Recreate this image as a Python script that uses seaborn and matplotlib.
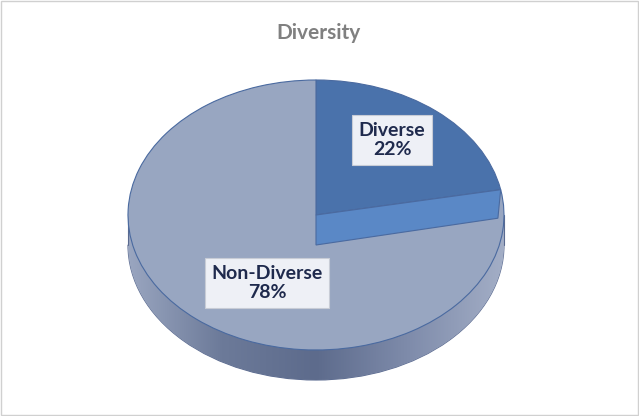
import numpy as np
import matplotlib
matplotlib.use("Agg")
import matplotlib.pyplot as plt
import seaborn as sns
from matplotlib.patches import Polygon, Rectangle, Wedge

categories = ["Diverse", "Non-Diverse"]
shares = [22, 78]
title = "Diversity"

sns.set_theme(style="white")
plt.rcParams['font.family'] = ['Lato', 'DejaVu Sans']

W, H = 639, 416
fig = plt.figure(figsize=(W/100, H/100), dpi=100)
fig.patch.set_facecolor("white")
ax = fig.add_axes([0, 0, 1, 1])
cx, cy, rx, ry, depth = 316, 215, 188, 135, 30
ax.set_xlim(-cx/rx, (W-cx)/rx)
ax.set_ylim(-(H-cy)/ry, cy/ry)
ax.set_aspect('auto')
ax.axis('off')
d = depth/ry

top_col = {"Diverse": "#4a72ab", "Non-Diverse": "#98a6c1"}
fracs = np.array(shares)/sum(shares)
start = 90.0
angles = []
for f in fracs:
    angles.append((start - f*360, start))
    start -= f*360

# side band with gradient
grad = np.linspace(0, 1, 256).reshape(1, -1)
cmap = matplotlib.colors.LinearSegmentedColormap.from_list("s", ["#9aa6c0", "#6c7a99", "#5d6b8c", "#7f8cab", "#a3aec6"])
lower = Wedge((0, -d), 1, 180, 360, facecolor="none", edgecolor="#5a6a90", lw=0.8, zorder=1)
ax.add_patch(lower)
band = Rectangle((-1, -d), 2, d, facecolor="none", edgecolor="none", zorder=1)
ax.add_patch(band)
for p in (lower, band):
    im = ax.imshow(grad, extent=[-1, 1, -1-d, 0], cmap=cmap, aspect='auto', zorder=1)
    im.set_clip_path(p)
ax.plot([-1, -1], [0, -d], color="#5a6a90", lw=0.8, zorder=1)
ax.plot([1, 1], [0, -d], color="#5a6a90", lw=0.8, zorder=1)

# top face
for cat, (a0, a1) in zip(categories, angles):
    ax.add_patch(Wedge((0, 0), 1, a0, a1, facecolor=top_col[cat], edgecolor="#4a6aa0", lw=0.8, zorder=2))

# exposed cut face of the Diverse slice
a = np.deg2rad(angles[0][0])
ex, ey = np.cos(a), np.sin(a)
ax.add_patch(Polygon([(0, 0), (ex, ey), (ex*0.985, ey - d*0.95), (0, -d)], closed=True,
                     facecolor="#5a88c6", edgecolor="#4a6aa0", lw=0.8, zorder=3))

box = dict(boxstyle="square,pad=0.35", facecolor="#eef0f6", edgecolor="#c8ccd6", lw=0.8)
ax.text((392-cx)/rx, (cy-140)/ry, f"{categories[0]}\n{shares[0]}%", ha="center", va="center",
        fontsize=14, fontweight="bold", color="#1f2a4d", bbox=box, zorder=5, linespacing=1.2)
ax.text((267-cx)/rx, (cy-283)/ry, f"{categories[1]}\n{shares[1]}%", ha="center", va="center",
        fontsize=14, fontweight="bold", color="#1f2a4d", bbox=box, zorder=5, linespacing=1.2)

fig.text(319/W, 1-33/H, title, ha="center", va="center", fontsize=15, fontweight="bold", color="#808080")
fig.patches.append(Rectangle((0.001, 0.002), 0.997, 0.995, transform=fig.transFigure,
                             fill=False, edgecolor="#d0d0d0", lw=1))
fig.savefig("out.png", dpi=100)
